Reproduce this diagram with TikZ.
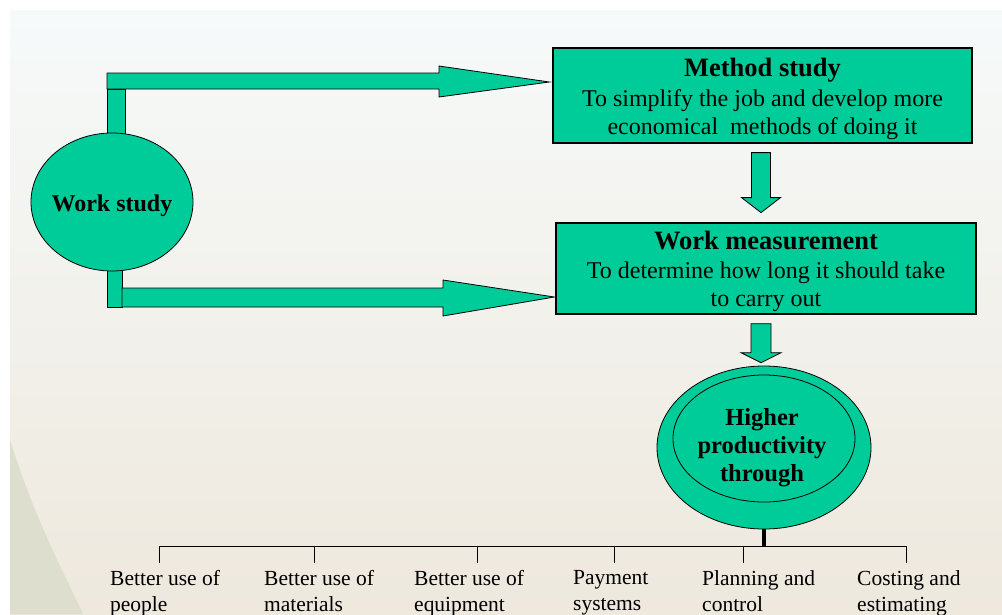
\documentclass[tikz,border=0pt]{standalone}
\usepackage{fontspec}
\setmainfont{Liberation Serif}
\usetikzlibrary{shapes.geometric,positioning,calc}
\definecolor{wsgreen}{RGB}{0,204,153}
\definecolor{slidetop}{RGB}{246,250,250}
\definecolor{slidebot}{RGB}{238,232,221}
\definecolor{swoosh}{RGB}{221,222,206}

\begin{document}
\begin{tikzpicture}[x=1pt,y=-1pt,
        box/.style={rectangle,draw=black,fill=wsgreen,line width=1.2pt,align=center,inner sep=2pt,
          font=\fontsize{24}{28}\selectfont},
        blk/.style={draw=black,fill=wsgreen,line width=0.8pt},
        oval/.style={ellipse,draw=black,fill=wsgreen,line width=0.8pt,inner sep=0pt},
        item/.style={anchor=north west,inner sep=0pt,align=left,font=\fontsize{21.5}{26}\selectfont}]
        \useasboundingbox (0,0) rectangle (1002,614);
        \clip (0,0) rectangle (1002,614);
        % slide background
        \fill[white] (0,0) rectangle (1002,614);
        \shade[top color=slidetop,bottom color=slidebot] (10,10) rectangle (1002,614);
        \fill[swoosh] (10,440) .. controls (35,520) and (65,575) .. (83,614) -- (10,614) -- cycle;

        \node[box,minimum width=419pt,minimum height=95pt] (ms) at (762.5,95.5)
          {\rule{0pt}{25pt}{\fontsize{26.5}{30}\selectfont\bfseries Method study}\\[2pt]
           To simplify the job and develop more\\ economical \ methods of doing it};
        \node[box,minimum width=420pt,minimum height=91pt] (wm) at (766,268.5)
          {\rule{0pt}{25pt}{\fontsize{26.5}{30}\selectfont\bfseries Work measurement}\\[1pt]
           To determine how long it should take\\ to carry out};

        % work study branches
        \draw[blk] (107,89) rectangle (125,140);
        \draw[blk] (107,73) -- (439,73) -- (439,66) -- ([shift={(-3,-13.5)}]ms.west)
          -- (439,97) -- (439,89) -- (107,89) -- cycle;
        \draw[blk] (107,262) rectangle (122,307);
        \draw[blk] (122,288) -- (443,288) -- (443,280) -- ([shift={(-1,28.5)}]wm.west)
          -- (443,316) -- (443,307) -- (122,307) -- cycle;
        \node[oval,minimum width=162pt,minimum height=138pt,font=\fontsize{24}{28}\selectfont\bfseries]
          (ws) at (112,202) {\rule{0pt}{24pt}\makebox[0pt]{Work study}};

        % down arrows
        \draw[blk] ([xshift=-11pt,yshift=-9pt]ms.south) -- ++(19,0) -- ++(0,45) -- ++(10,0)
          -- ++(-19.5,15) -- ++(-19.5,-15) -- ++(10,0) -- cycle;
        \draw[blk] ([xshift=-15pt,yshift=-9pt]wm.south) -- ++(20,0) -- ++(0,29) -- ++(10,0)
          -- ++(-20,10) -- ++(-20,-10) -- ++(10,0) -- cycle;

        % productivity
        \coordinate (bl) at (159,546);
        \coordinate (br) at (906,546);
        \node[oval,minimum width=214pt,minimum height=163pt] (pr) at (764,447.5) {};
        \node[oval,minimum width=182pt,minimum height=127pt] (pi) at (764,438.5) {};
        \node[align=center,font=\fontsize{24.5}{28}\selectfont\bfseries] (prt) at (762,448)
          {Higher\\ productivity\\ through};
        \draw[line width=4pt] (pr.south) -- (pr.south |- bl);
        \draw[line width=1pt] (bl) -- (br);
        \foreach \x in {159,314,477,614,743,906}
          \draw[line width=1pt] (\x,546) -- (\x,563);

        \node[item] (b1) at (110,570) {Better use of\\ people};
        \node[item] (b2) at (264,570) {Better use of\\ materials};
        \node[item] (b3) at (414,570) {Better use of\\ equipment};
        \node[item] (b4) at (573,570) {Payment\\ systems};
        \node[item] (b5) at (702,570) {Planning and\\ control};
        \node[item] (b6) at (857,570) {Costing and\\ estimating};
      \end{tikzpicture}
\end{document}
